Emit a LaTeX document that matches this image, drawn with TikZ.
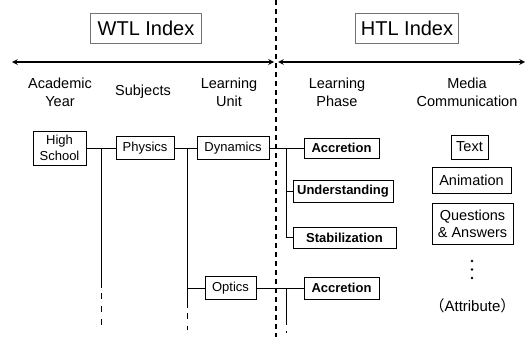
\documentclass[tikz,border=0pt]{standalone}
\usepackage{fontspec}
\setmainfont{Liberation Sans}
\newfontfamily\cjkfont{Noto Sans CJK JP}
\tikzset{
  idxbox/.style={draw=black!55,line width=.8pt,inner sep=0pt,minimum height=30pt,font=\fontsize{20}{24}\selectfont},
  colhead/.style={align=center,font=\fontsize{14.5}{18}\selectfont},
  wtlbox/.style={draw,line width=1pt,inner sep=0pt,minimum height=23pt,align=center,font=\fontsize{13}{16}\selectfont},
  htlbox/.style={wtlbox,minimum height=20pt,font=\fontsize{13}{16}\selectfont\bfseries},
  mediabox/.style={draw,line width=1pt,inner sep=0pt,align=center,font=\fontsize{14.5}{17}\selectfont},
  contline/.style={dash pattern=on 6pt off 7pt,dash phase=-5pt},
}
\begin{document}
\begin{tikzpicture}[x=1pt,y=-1pt,>=stealth,line width=1pt]
  \useasboundingbox (0,0) rectangle (526,337);
  \coordinate (divtop) at (276,0);
  \coordinate (divbot) at (276,337);
  \draw[line width=1.2pt,dash pattern=on 5pt off 4pt] (divtop)--(divbot);
  \node[idxbox,minimum width=111pt] (wtl) at (146,28) {WTL Index};
  \node[idxbox,minimum width=103pt] (htl) at (407,28) {HTL Index};
  \coordinate (wl) at (12,62);
  \coordinate (wr) at (274,62);
  \coordinate (hl) at (278,62);
  \coordinate (hr) at (525,62);
  \draw[<->,line width=1.5pt] (wl)--(wr);
  \draw[<->,line width=1.5pt] (hl)--(hr);
  \node[colhead] (hyear) at (60,92) {Academic\\Year};
  \node[colhead] (hsubj) at (143,92) {Subjects};
  \node[colhead] (hunit) at (229,92) {Learning\\Unit};
  \node[colhead] (hphase) at (337,92) {Learning\\Phase};
  \node[colhead] (hmedia) at (467,92) {Media\\Communication};
  \node[wtlbox,minimum width=53pt,minimum height=34pt] (school) at (59.5,148) {High\\School};
  \node[wtlbox,minimum width=58pt] (physics) at (145,148) {Physics};
  \node[wtlbox,minimum width=72pt] (dynamics) at (233,148) {Dynamics};
  \node[wtlbox,minimum width=51pt] (optics) at (230.5,288) {Optics};
  \node[htlbox,minimum width=75pt] (accr) at (341.5,148) {Accretion};
  \node[htlbox,minimum width=100pt,minimum height=22pt] (under) at (343,191) {Understanding};
  \node[htlbox,minimum width=103pt,minimum height=21pt] (stab) at (344.5,237.5) {Stabilization};
  \node[htlbox,minimum width=75pt,minimum height=22pt] (accrb) at (341.5,288) {Accretion};
  \node[mediabox,minimum width=37pt,minimum height=24pt] (text) at (469.5,147) {Text};
  \node[mediabox,minimum width=79pt,minimum height=26pt] (anim) at (471.5,180) {Animation};
  \node[mediabox,minimum width=81pt,minimum height=41pt] (qa) at (472.5,223.5) {Questions\\\& Answers};
  \fill (472,261) circle (1.3pt);
  \fill (472,269.5) circle (1.3pt);
  \fill (472,278) circle (1.3pt);
  \node[font=\fontsize{15}{18}\selectfont] (attr) at (472.5,306) {{\cjkfont （}Attribute{\cjkfont ）}};
  \coordinate (yeartop) at (101,148);
  \coordinate (yearend) at (101,288);
  \coordinate (yeardash) at (101,330);
  \draw (school)--(physics);
  \draw (yeartop)--(yearend);
  \draw[contline] (yearend)--(yeardash);
  \coordinate (subjtop) at (187,148);
  \coordinate (subjopt) at (187,288);
  \coordinate (subjend) at (187,308);
  \coordinate (subjdash) at (187,330);
  \draw (physics)--(dynamics);
  \draw (subjtop)--(subjend);
  \draw[contline] (subjend)--(subjdash);
  \draw (subjopt)--(optics);
  \coordinate (unittop) at (286,148);
  \coordinate (unitunder) at (286,191);
  \coordinate (unitstab) at (286,237.5);
  \draw (dynamics)--(accr);
  \draw (unittop)--(unitstab)--(stab);
  \draw (unitunder)--(under);
  \coordinate (unitb) at (286,288);
  \coordinate (unitbend) at (286,325);
  \coordinate (unitbdash) at (286,334);
  \draw (optics)--(accrb);
  \draw (unitb)--(unitbend);
  \draw[dash pattern=on 2pt off 6pt,dash phase=-6pt] (unitbend)--(unitbdash);
\end{tikzpicture}
\end{document}
